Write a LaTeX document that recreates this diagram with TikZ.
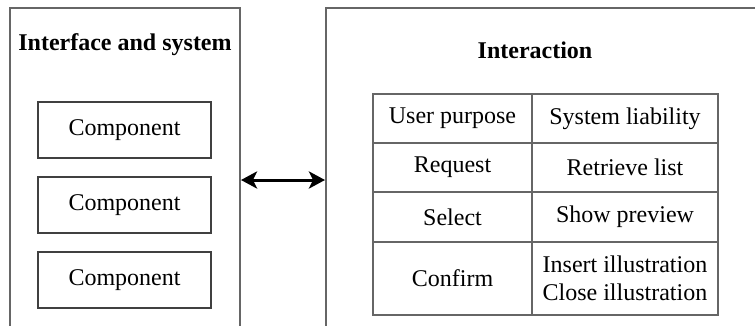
\documentclass[tikz,border=0pt]{standalone}
\usepackage{fontspec}
\setmainfont{Liberation Serif}
\usetikzlibrary{arrows.meta,positioning}

\begin{document}
\begin{tikzpicture}[x=1pt,y=-1pt,>={Stealth[length=16pt,width=17pt,inset=4pt]},node distance=75pt,
    frame/.style={draw=black!60,line width=1.3pt},
    comp/.style={draw=black!75,line width=1.6pt,minimum width=173pt,minimum height=56pt,
        inner sep=0pt,font=\fontsize{24}{28}\selectfont},
    cell/.style={draw=black!60,line width=1.3pt,inner sep=0pt,outer sep=0pt,align=center,
        font=\fontsize{24}{28}\selectfont},
    head/.style={font=\fontsize{24}{28}\selectfont\bfseries}]
    \useasboundingbox (0,0) rectangle (755,325);

    % open frames, cut off at the bottom
    \draw[frame] (10,330) |- (240,8) -- (240,330);
    \draw[frame] (326,330) |- (760,8);

    \node[head] (sys) at (125,45) {Interface and system};
    \node[head] (inter) at (535,50) {Interaction};

    \node[comp] (c1) at (124.5,130) {Component};
    \node[comp] (c2) [below of=c1] {Component};
    \node[comp] (c3) [below of=c2] {Component};

    % user / system table
    \node[cell, anchor=north west, minimum width=159pt, minimum height=49pt] (u1) at (373,94) {User purpose};
    \node[cell, minimum width=186pt, minimum height=49pt] (s1) [right=0pt of u1] {System liability};
    \node[cell, minimum width=159pt, minimum height=49pt] (u2) [below=0pt of u1] {Request};
    \node[cell, minimum width=186pt, minimum height=49pt] (s2) [right=0pt of u2] {Retrieve list};
    \node[cell, minimum width=159pt, minimum height=50pt] (u3) [below=0pt of u2] {Select};
    \node[cell, minimum width=186pt, minimum height=50pt] (s3) [right=0pt of u3] {Show preview};
    \node[cell, minimum width=159pt, minimum height=73pt] (u4) [below=0pt of u3] {Confirm};
    \node[cell, minimum width=186pt, minimum height=73pt] (s4) [right=0pt of u4] {Insert illustration\\Close illustration};

    \coordinate (lside) at (241,180);
    \coordinate (rside) at (325,180);
    \draw[<->, line width=3pt] (lside) -- (rside);
\end{tikzpicture}
\end{document}
